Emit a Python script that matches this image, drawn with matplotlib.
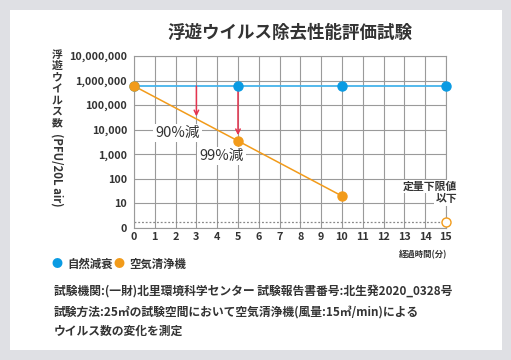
import matplotlib.pyplot as plt
from matplotlib.patches import Rectangle
from matplotlib.ticker import NullLocator

plt.rcParams['font.family'] = ['Noto Sans CJK JP', 'DejaVu Sans']

title = "浮遊ウイルス除去性能評価試験"
ylabel_jp = "浮遊ウイルス数"
ylabel_en = "(PFU/20L air)"
xlabel = "経過時間(分)"

natural_x = [0, 5, 10, 15]
natural_y = [600000, 600000, 600000, 600000]
purifier_x = [0, 5, 10]
purifier_y = [600000, 3500, 20]
limit_x = 15
limit_y = 2.4  # 定量下限値

arrow_x = [3, 5]
arrow_to = [35000, 6000]
reduce_labels = ["90%減", "99%減"]
reduce_pos = [(2.1, 7600), (4.2, 830)]

yticks = [0, 10, 100, 1000, 10000, 100000, 1000000, 10000000]
xticks = list(range(0, 16))

legend_names = ["自然減衰", "空気清浄機"]
notes = [
    "試験機関:(一財)北里環境科学センター 試験報告書番号:北生発2020_0328号",
    "試験方法:25㎡の試験空間において空気清浄機(風量:15㎥/min)による",
    "ウイルス数の変化を測定",
]

blue = "#0a9be3"
blue_line = "#45b4ec"
orange = "#f29b1a"
red = "#e5344f"
txt = "#333333"
grid_c = "#9a9a9a"

fig = plt.figure(figsize=(5.11, 3.6), dpi=100)
fig.patch.set_facecolor("#dfe0e4")
fig.patches.append(Rectangle((10 / 511, 10 / 360), 492 / 511, 340 / 360,
                             transform=fig.transFigure, facecolor="white",
                             edgecolor="none", zorder=-10))

ax = fig.add_axes([134 / 511, 1 - 228 / 360, 312 / 511, 172 / 360])
ax.set_zorder(2)
ax.set_yscale('symlog', linthresh=10, linscale=0.9)
ax.set_xlim(0, 15)
ax.set_ylim(0, 10000000)
ax.set_xticks(xticks)
ax.set_xticklabels([str(x) for x in xticks])
ax.set_yticks(yticks)
ax.set_yticklabels([f"{v:,}" for v in yticks])
ax.yaxis.set_minor_locator(NullLocator())
ax.tick_params(length=0, labelsize=7.8, labelcolor=txt)
ax.tick_params(axis='y', pad=5)
ax.tick_params(axis='x', pad=3)
for lab in ax.get_xticklabels() + ax.get_yticklabels():
    lab.set_fontweight("bold")
ax.grid(True, color=grid_c, linewidth=0.8)
for s in ax.spines.values():
    s.set_color(grid_c)
    s.set_linewidth(0.8)
ax.set_facecolor("white")

ax.plot([0, 15], [limit_y, limit_y], color="#888888", linestyle=(0, (1.5, 1.5)),
        linewidth=0.9, zorder=2)
ax.plot(natural_x, natural_y, color=blue_line, linewidth=1.3, zorder=3)
ax.plot(natural_x, natural_y, "o", color=blue, markersize=6.5, zorder=5,
        clip_on=False)
ax.plot(purifier_x, purifier_y, color=orange, linewidth=1.1, zorder=3)
ax.plot(purifier_x, purifier_y, "o", color=orange, markersize=6.5, zorder=5,
        clip_on=False)
ax.plot([limit_x], [limit_y], "o", markerfacecolor="white",
        markeredgecolor=orange, markeredgewidth=1, markersize=6.5, zorder=5,
        clip_on=False)

for x, y_end in zip(arrow_x, arrow_to):
    ax.annotate("", xy=(x, y_end), xytext=(x, natural_y[0]),
                arrowprops=dict(arrowstyle="->", color=red, lw=1.1,
                                shrinkA=0, shrinkB=0, mutation_scale=8),
                zorder=4)

for lab, (x, y) in zip(reduce_labels, reduce_pos):
    ax.text(x, y, lab, ha="center", va="center", fontsize=10.5, color=txt,
            zorder=6, bbox=dict(facecolor="white", edgecolor="none", pad=1.5))

ax.text(15.55, 48, "定量下限値", ha="right", va="center", fontsize=7.8,
        fontweight="bold", color=txt, zorder=6, clip_on=False,
        bbox=dict(facecolor="white", edgecolor="none", pad=1))
ax.text(15.55, 15, "以下", ha="right", va="center", fontsize=7.8,
        fontweight="bold", color=txt, zorder=6, clip_on=False,
        bbox=dict(facecolor="white", edgecolor="none", pad=1))

fig.text(290 / 511, 1 - 33 / 360, title, ha="center", va="center",
         fontsize=12.6, fontweight="bold", color=txt)
fig.text(57 / 511, 1 - 89 / 360, "\n".join(ylabel_jp), ha="center",
         va="center", fontsize=7.8, fontweight="bold", color=txt,
         linespacing=1.18)
fig.text(57 / 511, 1 - 170 / 360, ylabel_en, ha="center", va="center",
         rotation=-90, fontsize=8.2, fontweight="bold", color=txt)
fig.text(447 / 511, 1 - 255 / 360, xlabel, ha="right", va="center",
         fontsize=6, fontweight="bold", color=txt)

fig.text(57 / 511, 1 - 264 / 360, "●", ha="center", va="center",
         fontsize=8, color=blue)
fig.text(67 / 511, 1 - 264 / 360, legend_names[0], ha="left", va="center",
         fontsize=8.2, fontweight="bold", color=txt)
fig.text(119 / 511, 1 - 264 / 360, "●", ha="center", va="center",
         fontsize=8, color=orange)
fig.text(129 / 511, 1 - 264 / 360, legend_names[1], ha="left", va="center",
         fontsize=8.2, fontweight="bold", color=txt)

for i, line in enumerate(notes):
    yy = [291, 312, 331][i]
    fig.text(54 / 511, 1 - yy / 360, line, ha="left", va="center",
             fontsize=8.5, fontweight="bold", color=txt)

fig.savefig("out.png", dpi=100, facecolor=fig.get_facecolor())
